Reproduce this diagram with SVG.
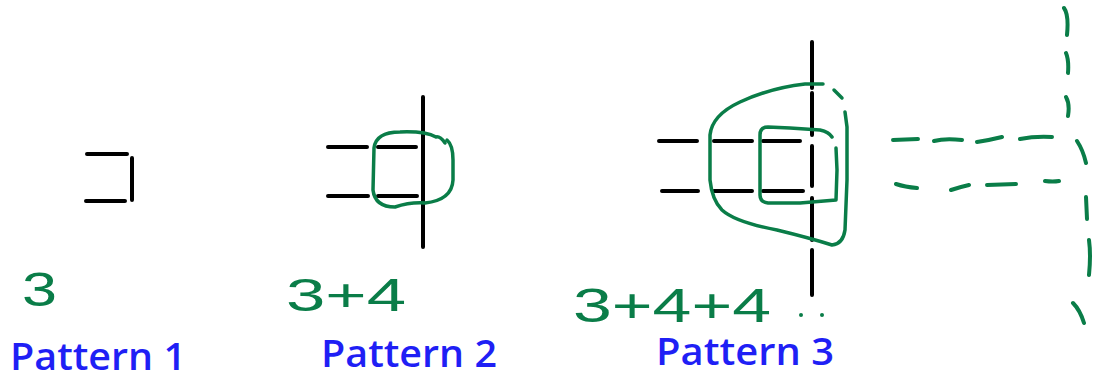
<svg xmlns="http://www.w3.org/2000/svg" width="1100" height="382" viewBox="0 0 1100 382">
<style>
.k{stroke:#000;stroke-width:4;stroke-linecap:round;fill:none}
.g{stroke:#0a7d48;stroke-width:3.5;stroke-linecap:round;stroke-linejoin:round;fill:none}
.gd{stroke:#0a7d48;stroke-width:4;stroke-linecap:round;fill:none}
.gt{fill:#0a7d48;font-family:"Liberation Sans",sans-serif;font-weight:normal}
.bt{fill:#1f1ff5;font-family:"Open Sans","Liberation Sans",sans-serif;font-size:37px;font-weight:600}
</style>
<rect width="1100" height="382" fill="#fff"/>
<g id="pattern1">
<path class="k" d="M87,154 L127,154 M132,158 L132,200 M86,201 L125,201"/>
<text class="gt" x="22" y="306" font-size="48" textLength="35" lengthAdjust="spacingAndGlyphs">3</text>
<text class="bt" x="10" y="370" textLength="176" lengthAdjust="spacingAndGlyphs">Pattern 1</text>
</g>
<g id="pattern2">
<path class="k" d="M328,147 L367,147 M378,147 L416,147 M328,196 L368,196 M378,196 L417,196 M423,97 L423,247"/>
<path class="g" d="M445,143 Q440,136 436,137 Q425,131 400,132 Q376,132 374,148 L373,190 Q375,207 395,207 Q410,202 425,203 Q452,200 453,180 L453,160 Q453,145 447,140"/>
<text class="gt" x="286" y="311" font-size="46" textLength="120" lengthAdjust="spacingAndGlyphs">3+4</text>
<text class="bt" x="321" y="367" textLength="176" lengthAdjust="spacingAndGlyphs">Pattern 2</text>
</g>
<g id="pattern3">
<path class="k" d="M659,141 L697,141 M714,141 L752,141 M763,141 L800,141 M662,191 L698,191 M714,191 L752,191 M763,191 L803,191 M812,42 L812,88 M812,93 L812,135 M812,146 L812,186 M812,198 L812,240 M812,250 L812,295"/>
<path class="g" d="M823,84 L805,84 Q770,88 740,102 Q712,115 710,135 L710,180 Q712,200 722,210 Q735,222 777,230 Q810,238 832,245 Q843,244 845,230 L847,180 L847,127 L845,112"/>
<path class="g" d="M834,90 L842,98"/>
<path class="g" d="M836,148 L837,170 L836,200 L800,203 L768,203 Q760,202 760,195 L760,135 Q760,127 768,127 L790,128 L820,130 Q829,132 832,137"/>
<text class="gt" x="573" y="322" font-size="48" textLength="198" lengthAdjust="spacingAndGlyphs">3+4+4</text>
<circle cx="801" cy="315" r="2" fill="#0a7d48"/>
<circle cx="822" cy="315" r="2" fill="#0a7d48"/>
<text class="bt" x="656" y="365" textLength="178" lengthAdjust="spacingAndGlyphs">Pattern 3</text>
</g>
<g id="extension">
<path class="gd" d="M893,140 L918,139 M934,141 Q945,138 962,140 M977,142 Q990,140 1002,137 M1020,139 Q1035,136 1052,137 M896,184 Q905,187 917,188 M951,190 Q960,187 969,185 M987,185 L1016,184 M1045,181 Q1053,182 1059,181 M1064,8 Q1069,15 1067,35 M1066,53 Q1069,60 1068,73 M1066,97 Q1070,104 1068,116 M1077,141 Q1083,150 1086,163 M1086,197 L1087,219 M1089,240 Q1091,255 1089,275 M1073,303 Q1080,310 1084,323"/>
</g>
</svg>
